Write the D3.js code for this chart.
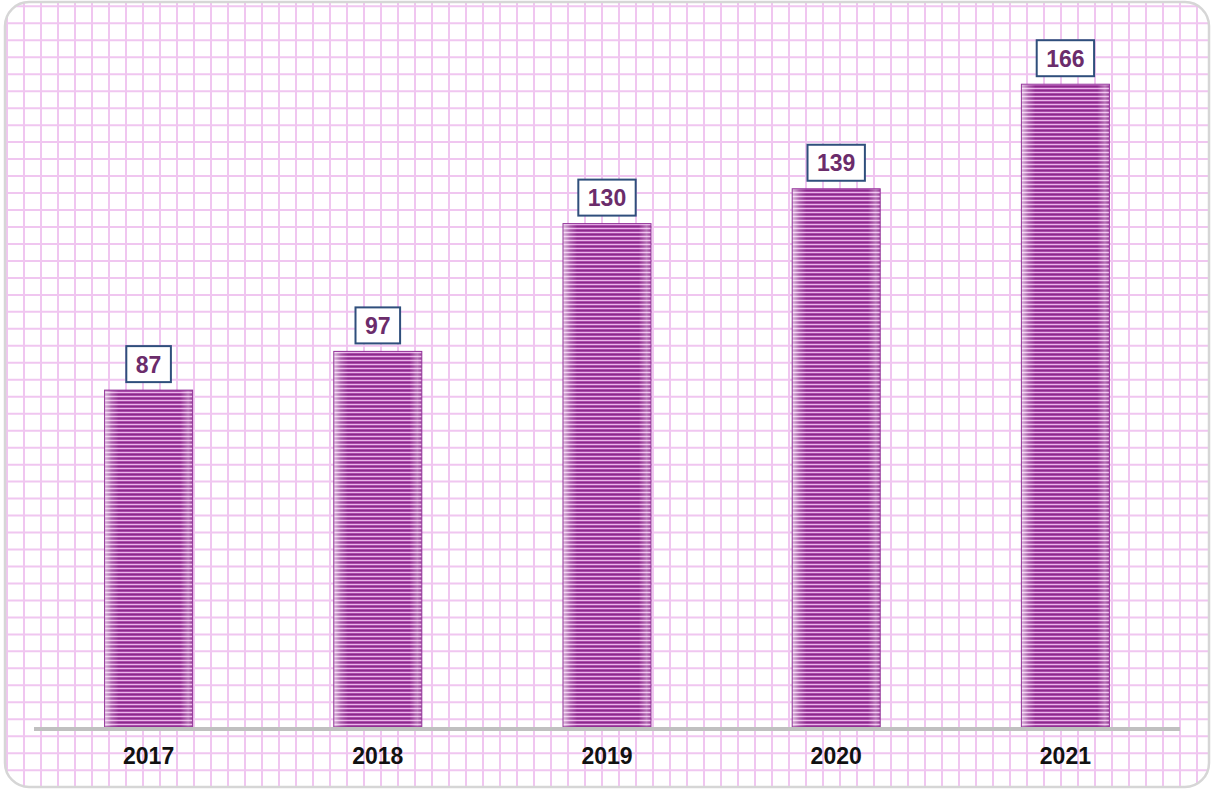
<!DOCTYPE html>
<html>
<head>
<meta charset="utf-8">
<script src="https://cdn.jsdelivr.net/npm/d3@7"></script>
<style>
  html, body { margin: 0; padding: 0; background: #ffffff; }
  svg { display: block; }
</style>
</head>
<body>
<svg id="chart" width="1212" height="791"></svg>
<script>
// Yearly totals
const years = ["2017", "2018", "2019", "2020", "2021"];
const values = [87, 97, 130, 139, 166];

const W = 1212, H = 791;
const svg = d3.select("#chart");
const defs = svg.append("defs");

// Card frame and clip
const frame = { x: 5, y: 2, w: 1204, h: 785, r: 24 };
defs.append("clipPath").attr("id", "cardClip")
  .append("rect")
  .attr("x", frame.x).attr("y", frame.y)
  .attr("width", frame.w).attr("height", frame.h)
  .attr("rx", frame.r).attr("ry", frame.r);

// Striped fill for the columns
const pat = defs.append("pattern")
  .attr("id", "stripes")
  .attr("patternUnits", "userSpaceOnUse")
  .attr("width", 8).attr("height", 4);
pat.append("rect").attr("width", 8).attr("height", 4).attr("fill", "#aa4aaa");
pat.append("rect").attr("y", 0).attr("width", 8).attr("height", 1).attr("fill", "#eab6ea");
pat.append("rect").attr("y", 2).attr("width", 8).attr("height", 1).attr("fill", "#8a2a8a");

// Pale glow on the column edges
const glow = defs.append("linearGradient").attr("id", "edgeGlow")
  .attr("x1", "0%").attr("x2", "100%").attr("y1", "0%").attr("y2", "0%");
[[0, 0.7], [0.08, 0.25], [0.16, 0], [0.86, 0], [0.95, 0.35], [1, 0.1]].forEach(([o, a]) => {
  glow.append("stop").attr("offset", o).attr("stop-color", "#ffffff").attr("stop-opacity", a);
});

// Graph-paper background
const grid = svg.append("g").attr("clip-path", "url(#cardClip)");
grid.append("rect").attr("x", 0).attr("y", 0).attr("width", W).attr("height", H).attr("fill", "#ffffff");
const gx0 = 7, gxStep = 17, gy0 = 6.3, gyStep = 16.975;
const vLines = d3.range(gx0, W, gxStep);
const hLines = d3.range(gy0, H, gyStep);
grid.selectAll("line.v").data(vLines).join("line")
  .attr("class", "v")
  .attr("x1", d => d).attr("x2", d => d)
  .attr("y1", 0).attr("y2", H)
  .attr("stroke", "#f0c6f0").attr("stroke-width", 2);
grid.selectAll("line.h").data(hLines).join("line")
  .attr("class", "h")
  .attr("x1", 0).attr("x2", W)
  .attr("y1", d => d).attr("y2", d => d)
  .attr("stroke", "#f0c6f0").attr("stroke-width", 2);

svg.append("rect")
  .attr("x", frame.x).attr("y", frame.y)
  .attr("width", frame.w).attr("height", frame.h)
  .attr("rx", frame.r).attr("ry", frame.r)
  .attr("fill", "none").attr("stroke", "#d6d6d6").attr("stroke-width", 2.5);

// Scales
const x = d3.scaleBand().domain(years).range([34, 1180])
  .paddingInner(0.616).paddingOuter(0.308);
const y = d3.scaleLinear().domain([0, 180]).range([727, 30]);

// Columns
const bars = svg.append("g");
bars.selectAll("rect.bar").data(values).join("rect")
  .attr("class", "bar")
  .attr("x", (d, i) => x(years[i]))
  .attr("y", d => y(d))
  .attr("width", x.bandwidth())
  .attr("height", d => y(0) - y(d))
  .attr("fill", "url(#stripes)");
bars.selectAll("rect.glow").data(values).join("rect")
  .attr("class", "glow")
  .attr("x", (d, i) => x(years[i]))
  .attr("y", d => y(d))
  .attr("width", x.bandwidth())
  .attr("height", d => y(0) - y(d))
  .attr("fill", "url(#edgeGlow)")
  .attr("stroke", "#94349a").attr("stroke-width", 1);

// Baseline
svg.append("line")
  .attr("x1", 34).attr("x2", 1180)
  .attr("y1", 729).attr("y2", 729)
  .attr("stroke", "#c0c0c0").attr("stroke-width", 4);

// Category axis labels
const xAxis = d3.axisBottom(x).tickSize(0).tickPadding(0);
const ax = svg.append("g").attr("transform", "translate(0,748)").call(xAxis);
ax.select(".domain").remove();
ax.selectAll("text")
  .attr("dy", "0.71em")
  .attr("font-family", "Liberation Sans, Arial, sans-serif")
  .attr("font-size", 23).attr("font-weight", "bold")
  .attr("fill", "#111111");

// Value labels in boxes
const labels = svg.append("g")
  .attr("font-family", "Liberation Sans, Arial, sans-serif")
  .attr("font-size", 23).attr("font-weight", "bold");
values.forEach((v, i) => {
  const cx = x(years[i]) + x.bandwidth() / 2;
  const g = labels.append("g");
  const t = g.append("text")
    .attr("x", cx).attr("y", y(v) - 17.5)
    .attr("text-anchor", "middle")
    .attr("fill", "#6b2c6b")
    .text(v);
  const bb = t.node().getBBox();
  const bw = bb.width + 19, bh = 36;
  g.insert("rect", "text")
    .attr("x", cx - bw / 2).attr("y", y(v) - 8 - bh)
    .attr("width", bw).attr("height", bh)
    .attr("fill", "#ffffff").attr("stroke", "#2f4f7c").attr("stroke-width", 2);
});
</script>
</body>
</html>
